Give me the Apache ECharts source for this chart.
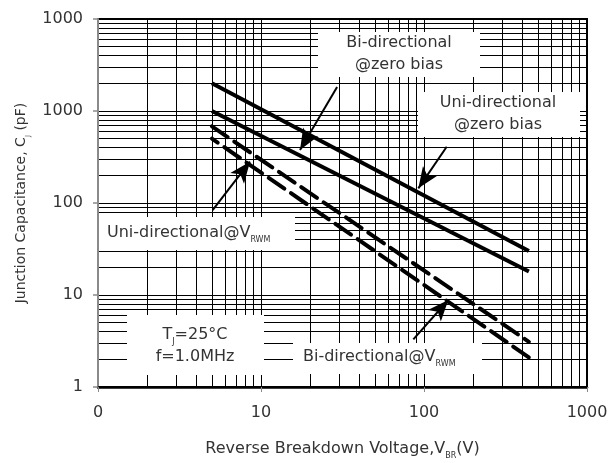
<!DOCTYPE html>
<html>
<head>
<meta charset="utf-8">
<script src="https://cdn.jsdelivr.net/npm/echarts@6/dist/echarts.min.js"></script>
<style>
  html, body { margin: 0; padding: 0; background: #fff; }
  #chart { width: 608px; height: 463px; }
</style>
</head>
<body>
<div id="chart"></div>
<script>
// Junction capacitance vs. reverse breakdown voltage (log-log)
const voltage = [5, 440];                 // V_BR (V)
const uniZeroBias = [2000, 30];           // pF
const biZeroBias = [1000, 18];            // pF
const uniAtVrwm = [680, 3.1];             // pF
const biAtVrwm = [500, 2.1];              // pF

const xTickValues = [1, 10, 100, 1000];
const xTickText = ['0', '10', '100', '1000'];
const yTickValues = [1, 10, 100, 1000, 10000];
const yTickText = ['1', '10', '100', '1000', '1000'];

// callout arrows: [fromV, fromC, toV, toC]
const arrows = [
  [29.3, 1824, 17.35, 377],
  [137.8, 409, 92.3, 144.4],
  [5.05, 83.9, 8.56, 281],
  [86.0, 3.30, 141, 8.83]
];

const FONT = '"DejaVu Sans", sans-serif';
const TXT = '#333';

function tickText(values, texts) {
  return function (v) {
    for (let i = 0; i < values.length; i++) {
      if (Math.abs(Math.log10(v) - Math.log10(values[i])) < 1e-6) return texts[i];
    }
    return '';
  };
}

function pairs(xs, ys) { return xs.map((x, i) => [x, ys[i]]); }

const chart = echarts.init(document.getElementById('chart'), null, { renderer: 'canvas' });

const gridLine = { color: '#000', width: 1 };

const subRich = {
  t: { fontFamily: FONT, fontSize: 16, color: TXT, lineHeight: 22 },
  s: { fontFamily: FONT, fontSize: 8, color: TXT, lineHeight: 12, verticalAlign: 'bottom' }
};

function labelBox(x, y, w, h, cx, cy, text, align) {
  return {
    type: 'group',
    z: 50,
    children: [
      { type: 'rect', shape: { x: x, y: y, width: w, height: h }, style: { fill: '#fff' }, z: 50 },
      {
        type: 'text', x: cx, y: cy, z: 51,
        style: {
          text: text, rich: subRich, align: align || 'center', verticalAlign: 'middle',
          fontFamily: FONT, fontSize: 16, fill: TXT, lineHeight: 22
        }
      }
    ]
  };
}

const option = {
  backgroundColor: '#fff',
  animation: false,
  grid: {
    left: 98, right: 21, top: 19, bottom: 76,
    outerBoundsMode: 'none', containLabel: false,
    show: true, borderColor: '#000', borderWidth: 2, backgroundColor: 'transparent'
  },
  xAxis: {
    type: 'log', logBase: 10, min: 1, max: 1000,
    name: '{t|Reverse Breakdown Voltage,V}{s|BR}{t|(V)}',
    nameLocation: 'middle', nameGap: 51,
    nameTextStyle: { rich: subRich },
    axisLine: { show: true, lineStyle: { color: '#000', width: 2.5 } },
    axisTick: { show: true, length: 5, lineStyle: { color: '#888', width: 1 } },
    axisLabel: { formatter: tickText(xTickValues, xTickText), fontFamily: FONT, fontSize: 16, color: TXT, margin: 18 },
    splitLine: { show: true, lineStyle: gridLine },
    minorTick: { show: false, splitNumber: 9 },
    minorSplitLine: { show: true, lineStyle: gridLine }
  },
  yAxis: {
    type: 'log', logBase: 10, min: 1, max: 10000,
    name: '{t|Junction Capacitance, C}{s|J}{t| (pF)}',
    nameLocation: 'middle', nameGap: 66, nameRotate: 90,
    nameTextStyle: { rich: {
      t: { fontFamily: FONT, fontSize: 14, color: TXT, lineHeight: 20 },
      s: { fontFamily: FONT, fontSize: 7, color: TXT, lineHeight: 10, verticalAlign: 'bottom' }
    } },
    axisLine: { show: true, lineStyle: { color: '#8a8a8a', width: 2 } },
    axisTick: { show: true, length: 5, lineStyle: { color: '#8a8a8a', width: 1.5 } },
    axisLabel: { formatter: tickText(yTickValues, yTickText), fontFamily: FONT, fontSize: 16, color: TXT, margin: 15 },
    splitLine: { show: true, lineStyle: gridLine },
    minorTick: { show: false, splitNumber: 9 },
    minorSplitLine: { show: true, lineStyle: gridLine }
  },
  series: [
    {
      name: 'Uni-directional @zero bias', type: 'line', data: pairs(voltage, uniZeroBias),
      symbol: 'none', z: 20, lineStyle: { color: '#000', width: 4 },
      markLine: {
        silent: true, animation: false, z: 30,
        label: { show: false },
        lineStyle: { color: '#000', width: 2, type: 'solid' },
        symbolSize: [13, 21],
        data: arrows.map(a => [
          { coord: [a[0], a[1]], symbol: 'none' },
          { coord: [a[2], a[3]], symbol: 'arrow' }
        ])
      }
    },
    {
      name: 'Bi-directional @zero bias', type: 'line', data: pairs(voltage, biZeroBias),
      symbol: 'none', z: 20, lineStyle: { color: '#000', width: 4 }
    },
    {
      name: 'Uni-directional @VRWM', type: 'line', data: pairs(voltage, uniAtVrwm),
      symbol: 'none', z: 20, lineStyle: { color: '#000', width: 4, type: [19, 8], cap: 'round' }
    },
    {
      name: 'Bi-directional @VRWM', type: 'line', data: pairs(voltage, biAtVrwm),
      symbol: 'none', z: 20, lineStyle: { color: '#000', width: 4, type: [19, 8], dashOffset: 12, cap: 'round' }
    }
  ],
  graphic: [
    labelBox(318, 32, 162, 45, 399, 54, '{t|Bi-directional}\n{t|@zero bias}'),
    labelBox(418, 92, 162, 45, 498, 114, '{t|Uni-directional}\n{t|@zero bias}'),
    labelBox(99, 217, 196, 33, 107, 233, '{t|Uni-directional@V}{s|RWM}', 'left'),
    labelBox(127, 315, 137, 60, 195, 346, '{t|T}{s|J}{t|=25°C}\n{t|f=1.0MHz}'),
    labelBox(293, 343, 189, 31, 303, 357, '{t|Bi-directional@V}{s|RWM}', 'left')
  ]
};

chart.setOption(option);
</script>
</body>
</html>
